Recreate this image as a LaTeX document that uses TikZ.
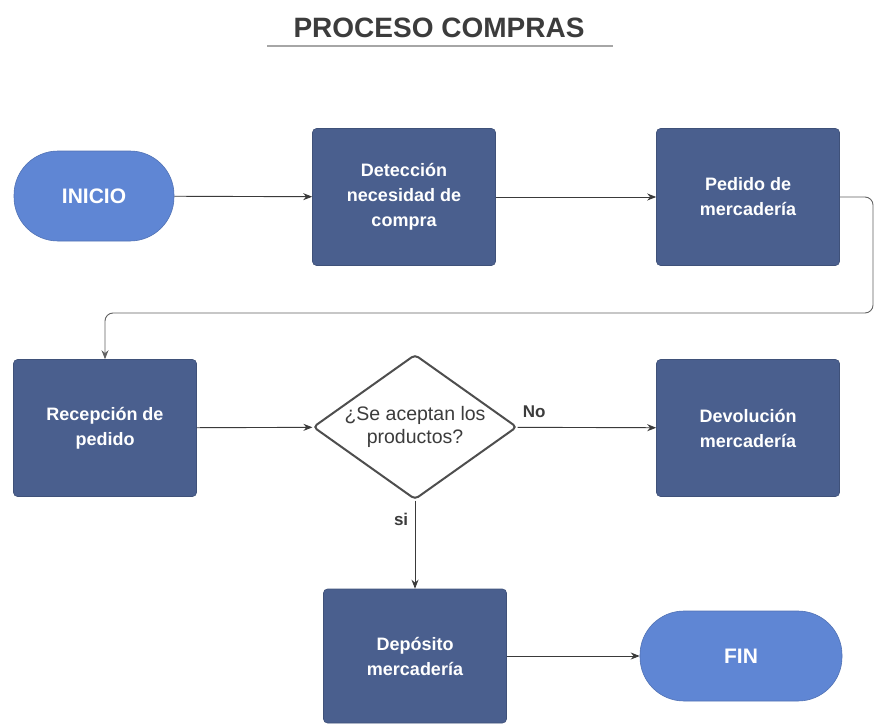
\documentclass[tikz,border=0pt]{standalone}
\usepackage{fontspec}
\setmainfont{Liberation Sans}
\usetikzlibrary{shapes.geometric,arrows.meta}
\definecolor{darkbox}{HTML}{4A5F8E}
\definecolor{lightbox}{HTML}{5F86D4}
\definecolor{linec}{HTML}{3A3A3A}
\definecolor{titlec}{HTML}{3C3C3C}
\tikzset{
  stepbox/.style={rectangle, rounded corners=4pt, fill=darkbox, draw=darkbox!85!black, line width=0.6pt,
    minimum width=183pt, minimum height=137pt, inner sep=4pt, align=center, text=white,
    font=\fontsize{18}{25}\selectfont\bfseries},
  term/.style={rectangle, rounded corners=44pt, fill=lightbox, draw=lightbox!85!black, line width=0.6pt,
    minimum height=90pt, align=center, text=white, font=\fontsize{21}{24}\selectfont\bfseries},
  decision/.style={diamond, draw=linec!90, line width=2pt, fill=white, rounded corners=4pt,
    minimum width=204pt, minimum height=145pt, inner sep=0pt},
  dectext/.style={align=center, text=titlec, inner sep=0pt, font=\fontsize{19.5}{23}\selectfont},
  arr/.style={draw=linec, line width=0.9pt, -{Stealth[length=9pt,width=7pt]}},
  lbl/.style={text=titlec, font=\fontsize{17}{20}\selectfont\bfseries}
}
\begin{document}
\begin{tikzpicture}[x=1pt,y=-1pt]
\useasboundingbox (0,0) rectangle (877,725);
% title
\node[font=\fontsize{28}{32}\selectfont\bfseries, text=titlec] (title) at (439,28) {PROCESO COMPRAS};
\coordinate (ul1) at (267,46);
\coordinate (ul2) at (613,46);
\draw[draw=gray!70, line width=2pt] (ul1) -- (ul2);
% nodes
\node[term, minimum width=160pt] (ini) at (94,196) {INICIO};
\node[stepbox] (det) at (404,197) {Detección\\necesidad de\\compra};
\node[stepbox] (ped) at (748,197) {Pedido de\\mercadería};
\node[stepbox] (rec) at (105,428) {Recepción de\\pedido};
\node[decision] (dec) at (415,427) {};
\node[dectext] (dect) at (dec.center) {¿Se aceptan los\\productos?};
\node[stepbox] (dev) at (748,428) {Devolución\\mercadería};
\node[stepbox, minimum height=134pt] (dep) at (415,656) {Depósito\\mercadería};
\node[term, minimum width=202pt] (fin) at (741,656) {FIN};
% connectors
\coordinate (r1) at (873,313);
\draw[arr] (ini) -- (det);
\draw[arr] (det) -- (ped);
\draw[arr, draw=linec!80, rounded corners=8pt] (ped.east) -| (r1) -| (rec.north);
\draw[arr] (rec) -- (dec);
\draw[arr] (dec) -- node[lbl, pos=0.12, above=6pt] (no) {No} (dev);
\draw[arr] (dec) -- node[lbl, pos=0.22, left=3pt] (si) {si} (dep);
\draw[arr] (dep) -- (fin);
\end{tikzpicture}
\end{document}
